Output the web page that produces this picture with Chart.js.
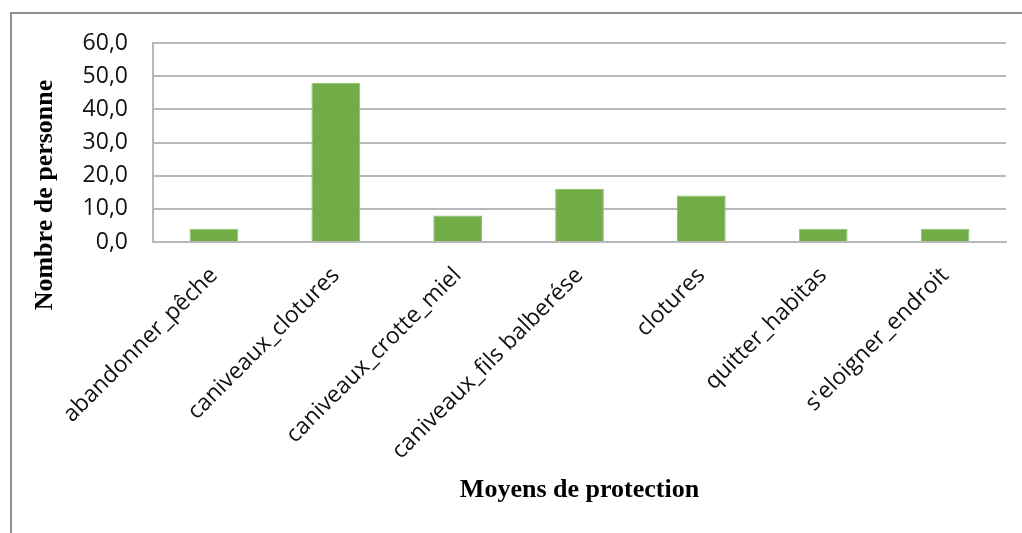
<!DOCTYPE html>
<html>
<head>
<meta charset="utf-8">
<script src="https://cdn.jsdelivr.net/npm/chart.js@4"></script>
<style>
  html, body { margin: 0; padding: 0; background: #fff; }
  #wrap { position: relative; width: 1022px; height: 533px; }
</style>
</head>
<body>
<div id="wrap"><canvas id="chart"></canvas></div>
<script>
// Moyens de protection cités et nombre de personnes
const categories = [
  'abandonner_pêche',
  'caniveaux_clotures',
  'caniveaux_crotte_miel',
  'caniveaux_fils balberése',
  'clotures',
  'quitter_habitas',
  "s'eloigner_endroit"
];
const personnes = [4, 48, 8, 16, 14, 4, 4];
const yTicks = { min: 0, max: 60, step: 10 };
const yTitle = 'Nombre de personne';
const xTitle = 'Moyens de protection';

const gridColor = '#b8b8b8';

// cadre gris autour du graphique + titre vertical
const framePlugin = {
  id: 'frame',
  beforeDraw(chart) {
    const ctx = chart.ctx;
    ctx.save();
    ctx.fillStyle = '#fff';
    ctx.fillRect(0, 0, chart.width, chart.height);
    ctx.strokeStyle = '#8f8f8f';
    ctx.lineWidth = 2;
    ctx.beginPath();
    ctx.moveTo(11, chart.height);
    ctx.lineTo(11, 13);
    ctx.lineTo(chart.width, 13);
    ctx.stroke();
    ctx.restore();
  },
  afterDraw(chart) {
    const ctx = chart.ctx;
    ctx.save();
    ctx.translate(45, 195);
    ctx.rotate(-Math.PI / 2);
    ctx.font = 'bold 26px "Liberation Serif"';
    ctx.fillStyle = '#000';
    ctx.textAlign = 'center';
    ctx.textBaseline = 'middle';
    ctx.fillText(yTitle, 0, 0);
    ctx.restore();
  }
};

new Chart(document.getElementById('chart'), {
  type: 'bar',
  data: {
    labels: categories,
    datasets: [{
      data: personnes,
      backgroundColor: '#70ad47',
      borderColor: '#8cc46a',
      borderWidth: 1,
      barPercentage: 0.4,
      categoryPercentage: 1
    }]
  },
  options: {
    responsive: true,
    maintainAspectRatio: false,
    animation: false,
    layout: { padding: { left: 0, top: 43, right: 16, bottom: 27 } },
    plugins: {
      legend: { display: false },
      tooltip: { enabled: false }
    },
    scales: {
      x: {
        grid: { display: false },
        border: { display: true, color: gridColor, width: 2 },
        ticks: {
          color: '#111',
          font: { family: '"Open Sans"', size: 23 },
          maxRotation: 45,
          minRotation: 45,
          padding: 12
        },
        title: {
          display: true,
          text: xTitle,
          color: '#000',
          font: { family: '"Liberation Serif"', size: 26, weight: 'bold' },
          padding: { top: 0, bottom: 0 }
        },
        afterFit(scale) { scale.height = 264; }
      },
      y: {
        min: yTicks.min,
        max: yTicks.max,
        grid: { color: gridColor, lineWidth: 2, drawTicks: false },
        border: { display: true, color: gridColor, width: 2 },
        ticks: {
          stepSize: yTicks.step,
          color: '#111',
          font: { family: '"Open Sans"', size: 23 },
          padding: 25,
          callback: v => v.toFixed(1).replace('.', ',')
        },
        afterFit(scale) { scale.width = 153; }
      }
    }
  },
  plugins: [framePlugin]
});
</script>
</body>
</html>
